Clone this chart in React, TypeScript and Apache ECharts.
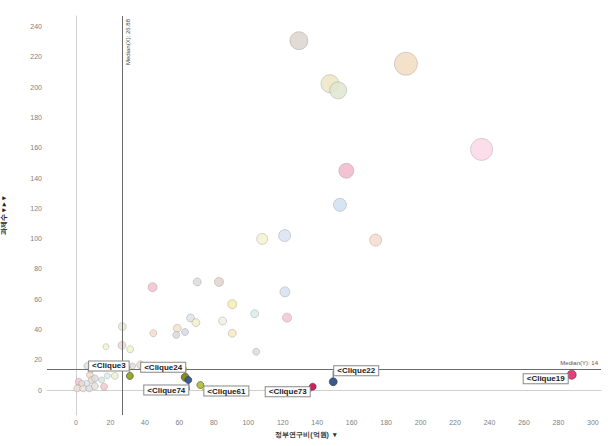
import React, { useEffect, useRef } from "react";
import * as echarts from "echarts";

// ---- data ----
const xTicks = [0, 20, 40, 60, 80, 100, 120, 140, 160, 180, 200, 220, 240, 260, 280, 300];
const yTicks = [0, 20, 40, 60, 80, 100, 120, 140, 160, 180, 200, 220, 240];

// background cliques: government research budget (x), number of projects (y), bubble weight
const bgX = [129.4, 191.5, 147.4, 152.2, 235.4, 156.9, 153.2, 108.1, 121.1, 173.9, 121.3, 103.7, 122.5, 104.6,
  44.5, 70.4, 83.0, 90.7, 66.5, 69.6, 85.1, 90.7, 44.9, 58.8, 63.3, 58.2, 26.9, 17.4, 26.7, 31.5, 32.9, 37.5, 6.6,
  1.6, 0.8, 4.2, 7.7, 8.1, 8.5, 9.1, 11.0, 11.0, 6.2, 14.9, 16.3, 18.2, 22.6, 3.3];
const bgY = [230.7, 215.5, 202.3, 197.9, 158.9, 144.8, 122.3, 99.8, 102.0, 99.0, 64.8, 50.4, 47.8, 25.3,
  67.9, 71.4, 71.4, 56.7, 47.6, 44.5, 45.6, 37.5, 37.5, 40.8, 38.3, 36.4, 41.9, 28.6, 29.5, 26.9, 15.9, 16.7, 15.9,
  5.5, 1.1, 1.1, 1.1, 9.9, 13.2, 6.6, 7.7, 2.6, 4.4, 6.6, 2.2, 9.3, 9.3, 4.4];
const bgW = [18, 23, 18, 17, 22, 15, 13, 11, 12, 12, 10, 8, 9, 7,
  9, 8, 9, 9, 8, 8, 8, 8, 7, 8, 7, 7, 8, 6, 8, 7, 6, 8, 7,
  7, 7, 7, 7, 7, 6, 7, 7, 7, 6, 6, 7, 6, 7, 6];

// highlighted cliques
const hlNames = ["Clique3", "Clique24", "Clique74", "Clique61", "Clique73", "Clique22", "Clique19"];
const hlX = [31.3, 63.4, 65.2, 72.2, 137.4, 149.3, 287.7];
const hlY = [9.3, 8.4, 6.6, 3.3, 2.2, 5.5, 10.1];
const hlW = [7, 8, 7, 7, 7, 8, 9];

const medianX = 26.88;
const medianY = 14;

// ---- styles ----
const bgColors = ["#ddd3cc", "#f1dcc0", "#efe5c3", "#dfe6cf", "#fad8e6", "#f2b9cb", "#cfdff2", "#f4f2d0", "#d9e3f2",
  "#f6dccd", "#d6e2f0", "#dcebeb", "#f2c6d2", "#dcdcdc",
  "#f2c2ce", "#dcdcdc", "#e2d4cf", "#f6ecb0", "#dde2ea", "#f2f0c8", "#eef0e4", "#f6e8c2", "#f6dcc8", "#f3e2cc",
  "#d4d8e2", "#dcd8dc", "#e8ecc8", "#f2f2d0", "#ead8d2", "#f2f2c8", "#dedede", "#f0dcc8", "#dedede",
  "#f2c6d2", "#ecdcd6", "#ece0d8", "#e2dad8", "#f2dcc8", "#ecdcc8", "#e8ddd2", "#dcdcdc", "#e4e0dc", "#dce6ee",
  "#d8e8e8", "#f2c6d2", "#dcecec", "#f0f0d0", "#e6dcd6"];
const hlColors = ["#9aaa28", "#8c8c1c", "#3c5c94", "#b8c440", "#d81c5c", "#3a5a8c", "#e83c7c"];
const hlLabelOffsets = [[-21, -10], [-22, -10], [-22, 10], [26, 6], [-25, 5], [23, -11], [-26, 4]];

export default function App() {
  const ref = useRef<HTMLDivElement>(null);
  useEffect(() => {
    if (!ref.current) return;
    const chart = echarts.init(ref.current, null, { renderer: "svg" });
    const bgData = bgX.map((x, i) => ({
      value: [x, bgY[i], bgW[i]],
      itemStyle: { color: bgColors[i] },
    }));
    const hlData = hlX.map((x, i) => ({
      name: hlNames[i],
      value: [x, hlY[i], hlW[i]],
      itemStyle: { color: hlColors[i] },
    }));
    chart.setOption({
      animation: false,
      textStyle: { fontFamily: "Liberation Sans, Arial, sans-serif" },
      grid: { left: 47, right: 7, top: 16, bottom: 31, containLabel: false, outerBoundsMode: "none" },
      xAxis: {
        type: "value",
        min: -16.8,
        max: 304.7,
        name: "정부연구비(억원)  ▾",
        nameLocation: "middle",
        nameGap: 15,
        nameTextStyle: { fontSize: 7, color: "#333", fontWeight: "bold", padding: [0, 36, 0, 0] },
        axisLine: { show: true, lineStyle: { color: "#d0d0d0" } },
        axisTick: { show: false },
        splitLine: { show: false },
        axisLabel: { customValues: xTicks, fontSize: 7, color: "#808080", margin: 4 },
      },
      yAxis: {
        type: "value",
        min: -16.5,
        max: 247,
        name: "과제수 ▾ ▸ ▾",
        nameLocation: "middle",
        nameGap: 40,
        nameRotate: 90,
        nameTextStyle: { fontSize: 7, color: "#222", fontWeight: "bold" },
        axisLine: { show: true, lineStyle: { color: "#d0d0d0" } },
        axisTick: { show: false },
        splitLine: { show: false },
        axisLabel: { customValues: yTicks, fontSize: 7, color: "#808080", margin: 5 },
      },
      series: [
        {
          type: "scatter",
          data: bgData,
          symbolSize: (v: number[]) => v[2],
          itemStyle: { opacity: 0.85, borderColor: "rgba(120,120,120,0.35)", borderWidth: 1 },
          markLine: {
            silent: true,
            symbol: "none",
            lineStyle: { color: "#6a6a6a", width: 1, type: "solid" },
            data: [
              {
                xAxis: medianX,
                label: {
                  formatter: "Median(X): " + medianX,
                  position: "insideEndBottom",
                  fontSize: 6,
                  color: "#444",
                  distance: 3,
                },
              },
              {
                yAxis: medianY,
                label: {
                  formatter: "Median(Y): " + medianY,
                  position: "insideEndTop",
                  fontSize: 6,
                  color: "#555",
                  distance: 3,
                },
              },
            ],
          },
        },
        {
          type: "scatter",
          data: hlData,
          symbolSize: (v: number[]) => v[2],
          itemStyle: { opacity: 1, borderColor: "rgba(40,40,40,0.5)", borderWidth: 1 },
          label: {
            show: true,
            position: "inside",
            formatter: (p: any) => "<" + p.name,
            fontSize: 8,
            fontWeight: "bold",
            color: "#222",
            backgroundColor: "#fff",
            borderColor: "#888",
            borderWidth: 1,
            padding: [1, 3, 0, 3],
          },
          labelLine: { show: true, lineStyle: { width: 1 } },
          labelLayout: (p: any) => ({
            dx: hlLabelOffsets[p.dataIndex][0],
            dy: hlLabelOffsets[p.dataIndex][1],
          }),
          z: 5,
        },
      ],
    });
    return () => chart.dispose();
  }, []);
  return <div ref={ref} style={{ position: "absolute", left: 0, top: 0, width: 608, height: 446 }} />;
}
